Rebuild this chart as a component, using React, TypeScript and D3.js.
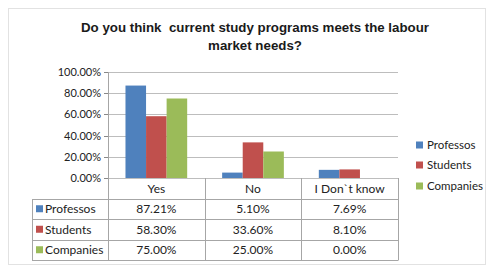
import React, { useEffect, useRef } from 'react';
import * as d3 from 'd3';

const categories = ['Yes', 'No', 'I Don`t know'];
const seriesNames = ['Professos', 'Students', 'Companies'];
const professos = [87.21, 5.1, 7.69];
const students = [58.3, 33.6, 8.1];
const companies = [75.0, 25.0, 0.0];
const yTicks = [0, 20, 40, 60, 80, 100];
const colors = ['#4F81BD', '#C0504D', '#9BBB59'];

const App: React.FC = () => {
  const svgRef = useRef<SVGSVGElement>(null);

  useEffect(() => {
    if (!svgRef.current) return;
    const width = 494;
    const height = 267;
    const values = [professos, students, companies];

    const svg = d3.select(svgRef.current);
    svg.selectAll('*').remove();
    svg.attr('width', width).attr('height', height);

    svg.append('rect').attr('width', width).attr('height', height).attr('fill', '#fff');
    svg.append('rect')
      .attr('x', 8.5).attr('y', 8.5).attr('width', 477).attr('height', 256)
      .attr('fill', 'none').attr('stroke', '#e2e2e2');

    // Title
    const title = svg.append('text')
      .attr('text-anchor', 'middle')
      .attr('font-family', 'Liberation Sans, Arial, sans-serif')
      .attr('font-weight', 'bold')
      .attr('font-size', 13.3)
      .attr('fill', '#1a1a1a')
      .style('white-space', 'pre');
    title.append('tspan').attr('x', 255).attr('y', 32).text('Do you think  current study programs meets the labour');
    title.append('tspan').attr('x', 255).attr('y', 50).text('market needs?');

    const left = 108, right = 398, top = 72, bottom = 178;
    const x = d3.scaleBand().domain(categories).range([left, right]);
    const y = d3.scaleLinear().domain([0, 100]).range([bottom, top]);
    const inner = d3.scaleBand().domain(seriesNames).range([0, x.bandwidth()]).paddingInner(0).paddingOuter(0.85);

    const font = 'Lato, Carlito, Calibri, sans-serif';

    // grid
    svg.append('g').selectAll('line').data(yTicks).enter().append('line')
      .attr('x1', left).attr('x2', right)
      .attr('y1', d => Math.round(y(d)) + 0.5).attr('y2', d => Math.round(y(d)) + 0.5)
      .attr('stroke', '#bdbdbd');

    // tick labels
    svg.append('g').selectAll('text').data(yTicks).enter().append('text')
      .attr('x', left - 7).attr('y', d => y(d) + 4)
      .attr('text-anchor', 'end')
      .attr('font-family', font).attr('font-size', 11).attr('fill', '#222')
      .text(d => d.toFixed(2) + '%');
    svg.append('g').selectAll('line').data(yTicks).enter().append('line')
      .attr('x1', left - 4).attr('x2', left)
      .attr('y1', d => Math.round(y(d)) + 0.5).attr('y2', d => Math.round(y(d)) + 0.5)
      .attr('stroke', '#888');

    // bars
    seriesNames.forEach((s, si) => {
      svg.append('g').selectAll('rect').data(values[si]).enter().append('rect')
        .attr('x', (d, i) => x(categories[i])! + inner(s)!)
        .attr('width', inner.bandwidth())
        .attr('y', d => y(d))
        .attr('height', d => bottom - y(d))
        .attr('fill', colors[si]);
    });

    // table
    const tLeft = 32;
    const rowH = 20.5;
    const tBottom = bottom + rowH * 4;
    const grid = '#a6a6a6';
    svg.append('line').attr('x1', left + 0.5).attr('x2', left + 0.5).attr('y1', top).attr('y2', tBottom).attr('stroke', grid);
    categories.forEach(c => {
      const xe = Math.round(x(c)! + x.bandwidth()) + 0.5;
      svg.append('line').attr('x1', xe).attr('x2', xe).attr('y1', bottom).attr('y2', tBottom).attr('stroke', grid);
    });
    for (let r = 1; r <= 4; r++) {
      const yy = Math.round(bottom + rowH * r) + 0.5;
      svg.append('line').attr('x1', tLeft).attr('x2', right + 0.5).attr('y1', yy).attr('y2', yy).attr('stroke', grid);
    }
    svg.append('line').attr('x1', tLeft + 0.5).attr('x2', tLeft + 0.5)
      .attr('y1', Math.round(bottom + rowH) + 0.5).attr('y2', Math.round(tBottom) + 0.5).attr('stroke', grid);

    svg.append('g').selectAll('text').data(categories).enter().append('text')
      .attr('x', d => x(d)! + x.bandwidth() / 2).attr('y', bottom + rowH / 2 + 4.5)
      .attr('text-anchor', 'middle').attr('font-family', font).attr('font-size', 12).attr('fill', '#222')
      .text(d => d);

    seriesNames.forEach((s, si) => {
      const cy = bottom + rowH * (si + 1) + rowH / 2;
      svg.append('rect').attr('x', tLeft + 4).attr('y', cy - 3.5).attr('width', 7).attr('height', 7).attr('fill', colors[si]);
      svg.append('text').attr('x', tLeft + 13).attr('y', cy + 4.5)
        .attr('font-family', font).attr('font-size', 12).attr('fill', '#222').text(s);
      svg.append('g').selectAll('text').data(values[si]).enter().append('text')
        .attr('x', (d, i) => x(categories[i])! + x.bandwidth() / 2).attr('y', cy + 4.5)
        .attr('text-anchor', 'middle').attr('font-family', font).attr('font-size', 12).attr('fill', '#222')
        .text(d => d.toFixed(2) + '%');
    });

    // legend
    const legY = [145, 165, 186];
    seriesNames.forEach((s, si) => {
      svg.append('rect').attr('x', 416).attr('y', legY[si] - 3.5).attr('width', 7).attr('height', 7).attr('fill', colors[si]);
      svg.append('text').attr('x', 427).attr('y', legY[si] + 4)
        .attr('font-family', font).attr('font-size', 11.5).attr('fill', '#222').text(s);
    });
  }, []);

  return <svg ref={svgRef} style={{ position: 'absolute', left: 0, top: 0 }}></svg>;
};

export default App;
